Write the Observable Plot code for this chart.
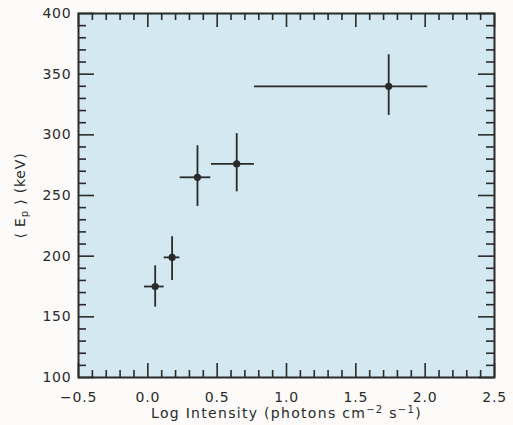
<!DOCTYPE html>
<html>
<head>
<meta charset="utf-8">
<script src="https://cdn.jsdelivr.net/npm/d3@7"></script>
<script src="https://cdn.jsdelivr.net/npm/@observablehq/plot@0.6"></script>
<style>
  html, body { margin: 0; padding: 0; background: #fcfbf9; }
  svg { font-family: "DejaVu Sans", sans-serif; }
  .ch g[aria-label="x-axis tick label"] text,
  .ch g[aria-label="y-axis tick label"] text { letter-spacing: 0.8px; }
</style>
</head>
<body>
<div id="chart"></div>
<script>
// Data
const logIntensity = [0.053, 0.175, 0.358, 0.641, 1.737];
const xLow  = [-0.024, 0.118, 0.233, 0.459, 0.769];
const xHigh = [0.118, 0.231, 0.454, 0.769, 2.019];
const meanEp = [175, 199, 265, 276, 340];
const epLow  = [158, 180, 241, 253, 316];
const epHigh = [192, 216, 291, 301, 366];

const xMajorTicks = [-0.5, 0.0, 0.5, 1.0, 1.5, 2.0, 2.5];
const yMajorTicks = [100, 150, 200, 250, 300, 350, 400];
const xMinorTicks = d3.range(-5, 26).map(i => i / 10).filter(v => !xMajorTicks.some(m => Math.abs(m - v) < 1e-9));
const yMinorTicks = d3.range(100, 401, 10).filter(v => v % 50 !== 0);

// titles, split into pieces: [text, role] where role is "", "sup" or "sub"
const xTitleParts = [["Log Intensity (photons cm", ""], ["−2", "sup"], [" s", ""], ["−1", "sup"], [")", ""]];
const yTitleParts = [["⟨ E", ""], ["p", "sub"], [" ⟩ (keV)", ""]];
const xTitle = xTitleParts.map(p => p[0]).join("");
const yTitle = yTitleParts.map(p => p[0]).join("");

const points = logIntensity.map((x, i) => ({
  x, x1: xLow[i], x2: xHigh[i], y: meanEp[i], y1: epLow[i], y2: epHigh[i]
}));

const W = 513, H = 425, mL = 78, mR = 19, mT = 13, mB = 48;
const pw = W - mL - mR, ph = H - mT - mB;
const ink = "#2a2a2a";

const chart = Plot.plot({
  width: W, height: H,
  marginLeft: mL, marginRight: mR, marginTop: mT, marginBottom: mB,
  className: "ch",
  style: { background: "transparent", fontFamily: "DejaVu Sans, sans-serif", fontSize: "14px", color: ink },
  x: { domain: [-0.5, 2.5] },
  y: { domain: [100, 400] },
  marks: [
    Plot.frame({ fill: "#d3e8f0", stroke: null }),
    // inside ticks: bottom & top
    Plot.ruleX(xMajorTicks, { x: d => d, insetTop: ph - 14, stroke: ink, strokeWidth: 1.6 }),
    Plot.ruleX(xMinorTicks, { x: d => d, insetTop: ph - 7, stroke: ink, strokeWidth: 1.6 }),
    Plot.ruleX(xMajorTicks, { x: d => d, insetBottom: ph - 14, stroke: ink, strokeWidth: 1.6 }),
    Plot.ruleX(xMinorTicks, { x: d => d, insetBottom: ph - 7, stroke: ink, strokeWidth: 1.6 }),
    // inside ticks: left & right
    Plot.ruleY(yMajorTicks, { y: d => d, insetRight: pw - 16, stroke: ink, strokeWidth: 1.6 }),
    Plot.ruleY(yMinorTicks, { y: d => d, insetRight: pw - 8, stroke: ink, strokeWidth: 1.6 }),
    Plot.ruleY(yMajorTicks, { y: d => d, insetLeft: pw - 16, stroke: ink, strokeWidth: 1.6 }),
    Plot.ruleY(yMinorTicks, { y: d => d, insetLeft: pw - 8, stroke: ink, strokeWidth: 1.6 }),
    // tick labels
    Plot.axisX(xMajorTicks, { anchor: "bottom", tickSize: 0, tickPadding: 15, label: null,
      tickFormat: d => d.toFixed(1).replace("-", "−"), fontSize: 14, fill: ink }),
    Plot.axisY(yMajorTicks, { anchor: "left", tickSize: 0, tickPadding: 7, label: null,
      tickFormat: d => String(d), fontSize: 14, fill: ink }),
    // error bars
    Plot.ruleY(points, { y: "y", x1: "x1", x2: "x2", stroke: ink, strokeWidth: 1.8 }),
    Plot.ruleX(points, { x: "x", y1: "y1", y2: "y2", stroke: ink, strokeWidth: 1.8 }),
    Plot.dot(points, { x: "x", y: "y", r: 3.6, fill: ink, stroke: null }),
    // frame
    Plot.frame({ stroke: ink, strokeWidth: 2 }),
    // titles
    Plot.text([xTitle], { frameAnchor: "bottom", dy: 40, text: d => d, fontSize: 14, fill: ink, textAnchor: "middle" }),
    Plot.text([yTitle], { frameAnchor: "left", dx: -58, rotate: -90, text: d => d, fontSize: 14, fill: ink, textAnchor: "middle" })
  ]
});

// rich text for titles (sub/superscripts) and letter spacing
function richify(full, parts, spacing) {
  d3.select(chart).selectAll("text").filter(function () { return this.textContent === full; })
    .each(function () {
      const t = d3.select(this);
      t.text(null).style("letter-spacing", spacing + "px");
      let shift = 0;
      for (const [s, role] of parts) {
        const target = role === "sup" ? -5 : role === "sub" ? 3 : 0;
        const ts = t.append("tspan").text(s).attr("dy", target - shift);
        if (role) ts.attr("font-size", 10);
        shift = target;
      }
    });
}
richify(xTitle, xTitleParts, 1.3);
richify(yTitle, yTitleParts, 0.8);

document.getElementById("chart").appendChild(chart);
</script>
</body>
</html>
